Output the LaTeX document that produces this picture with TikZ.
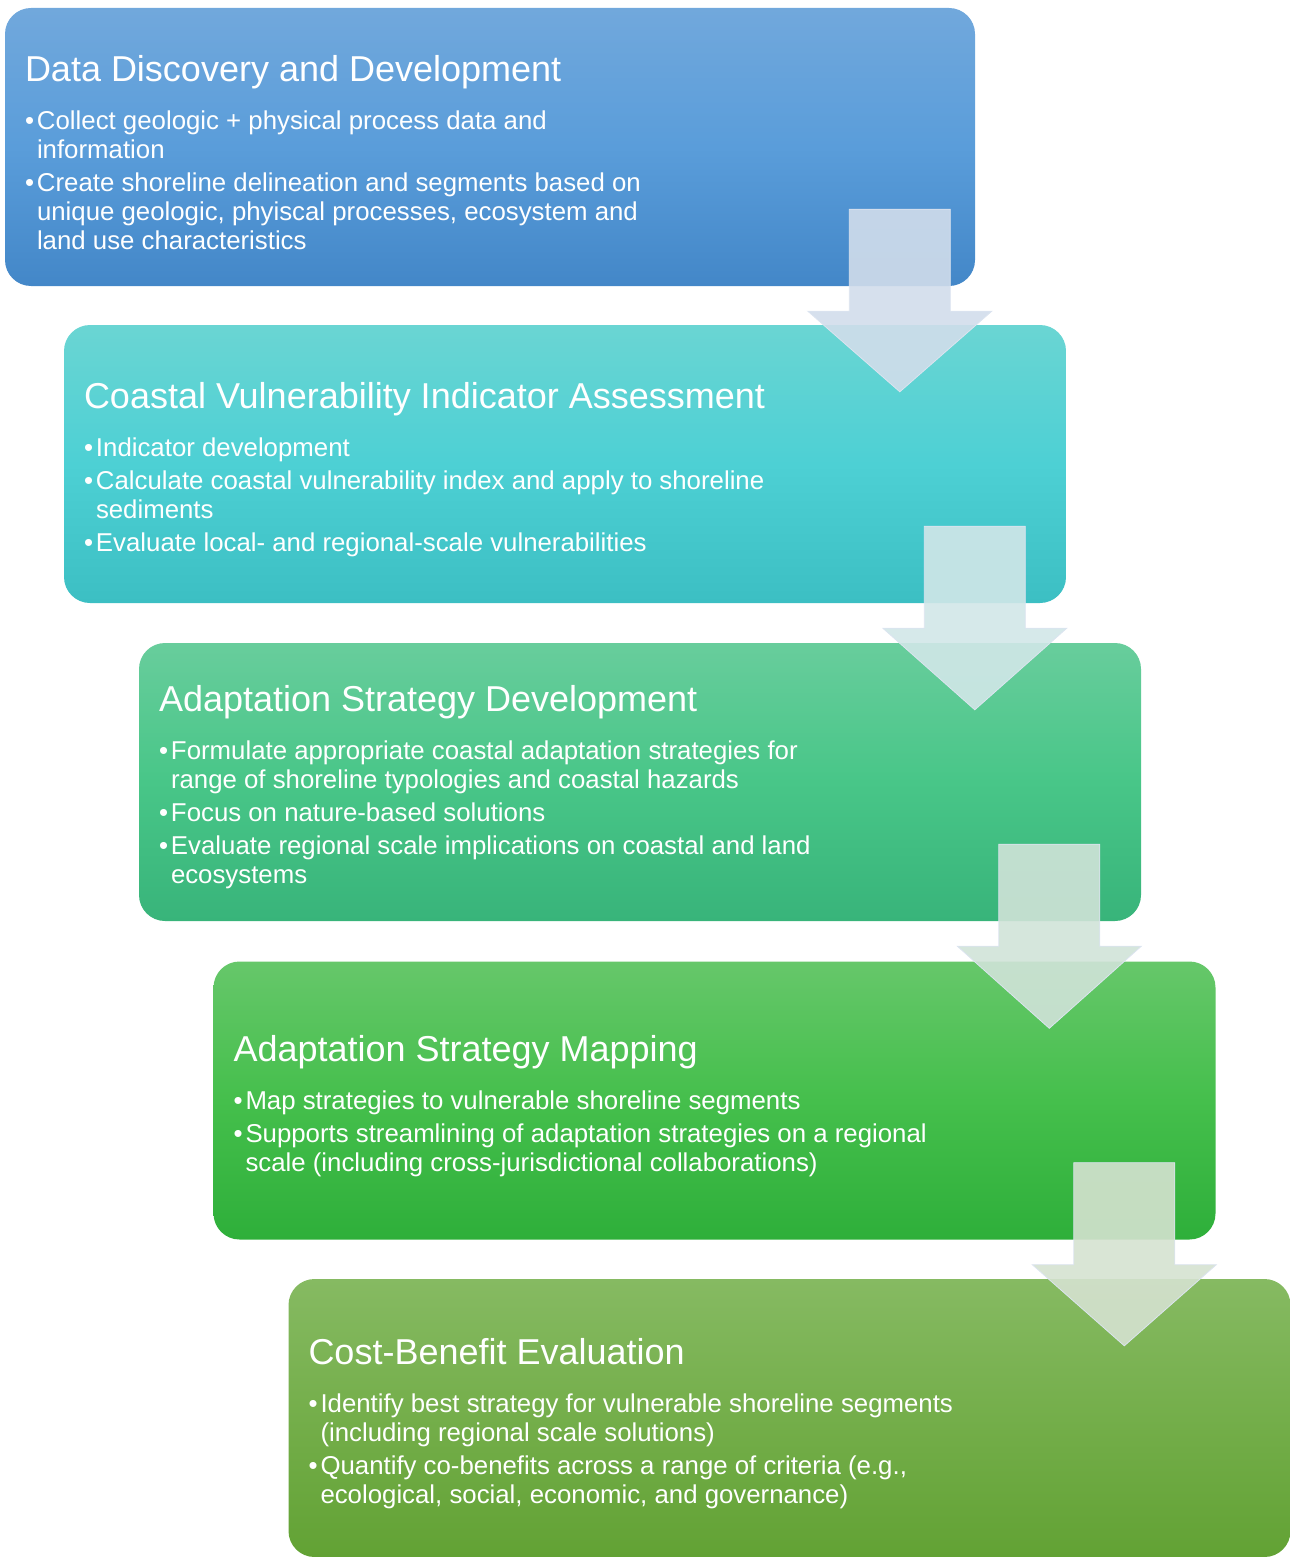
\documentclass[tikz,border=0pt]{standalone}
\usepackage{fontspec}
\setmainfont{Liberation Sans}
\usetikzlibrary{calc}

\definecolor{blueTop}{HTML}{71A8DC}
\definecolor{blueMid}{HTML}{5A9DDA}
\definecolor{blueBot}{HTML}{4387C8}
\definecolor{cyanTop}{HTML}{6AD5D3}
\definecolor{cyanMid}{HTML}{4DD0D4}
\definecolor{cyanBot}{HTML}{3CBFC3}
\definecolor{tealTop}{HTML}{68CD9C}
\definecolor{tealMid}{HTML}{48C688}
\definecolor{tealBot}{HTML}{38B47A}
\definecolor{greenTop}{HTML}{66C76A}
\definecolor{greenMid}{HTML}{45BF4C}
\definecolor{greenBot}{HTML}{2EAF3A}
\definecolor{oliveTop}{HTML}{86BA62}
\definecolor{oliveMid}{HTML}{74AE4A}
\definecolor{oliveBot}{HTML}{62A234}
\definecolor{arrowA}{HTML}{D1DDEB}
\definecolor{arrowB}{HTML}{D1E7E8}
\definecolor{arrowC}{HTML}{D0E3D8}
\definecolor{arrowD}{HTML}{D5E2D0}
\definecolor{arrowEdge}{HTML}{DCE4F0}

\newcommand{\steptitle}[1]{\spaceskip=0pt\xspaceskip=0pt%
  {\fontsize{36}{40}\selectfont\rule{0pt}{37pt}#1\par}\vspace{15pt}\fontsize{25.8}{29}\selectfont}
\newcommand{\stepitem}[1]{\hangindent=12pt\hangafter=1\noindent\makebox[12pt][l]{\textbullet}#1\par}

\tikzset{
  stepbox/.style={rounded corners=26pt, minimum height=278pt, text width=962pt,
    inner xsep=20pt, inner ysep=0pt, text=white,
    execute at begin node={\setlength{\parskip}{4pt}\setlength{\parindent}{0pt}}},
  flowarrow/.style={fill opacity=0.9, draw=arrowEdge, line width=0.8pt}
}

\begin{document}
\begin{tikzpicture}[x=1pt,y=-1pt]
      \useasboundingbox (0,0) rectangle (1291,1557);

      % step 1
      \node[stepbox, text width=930pt, top color=blueTop, bottom color=blueBot, middle color=blueMid]
        (s1) at (490,147) {%
        \steptitle{Data Discovery and Development}
        \stepitem{Collect geologic + physical process data and\newline information}
        \stepitem{Create shoreline delineation and segments based on\newline unique geologic, phyiscal processes, ecosystem and\newline land use characteristics}};
      % step 2
      \node[stepbox, top color=cyanTop, bottom color=cyanBot, middle color=cyanMid]
        (s2) at (565,464) {%
        \steptitle{Coastal Vulnerability Indicator Assessment}
        \stepitem{Indicator development}
        \stepitem{Calculate coastal vulnerability index and apply to shoreline\newline sediments}
        \stepitem{Evaluate local- and regional-scale vulnerabilities}};
      % step 3
      \node[stepbox, top color=tealTop, bottom color=tealBot, middle color=tealMid]
        (s3) at (640,782) {%
        \steptitle{Adaptation Strategy Development}
        \stepitem{Formulate appropriate coastal adaptation strategies for\newline range of shoreline typologies and coastal hazards}
        \stepitem{Focus on nature-based solutions}
        \stepitem{Evaluate regional scale implications on coastal and land\newline ecosystems}};
      % step 4
      \node[stepbox, top color=greenTop, bottom color=greenBot, middle color=greenMid]
        (s4) at (714.5,1100.5) {%
        \steptitle{Adaptation Strategy Mapping}
        \stepitem{Map strategies to vulnerable shoreline segments}
        \stepitem{Supports streamlining of adaptation strategies on a regional\newline scale (including cross-jurisdictional collaborations)}};
      % step 5
      \node[stepbox, top color=oliveTop, bottom color=oliveBot, middle color=oliveMid]
        (s5) at (789.5,1418) {%
        \steptitle{Cost-Benefit Evaluation}
        \stepitem{Identify best strategy for vulnerable shoreline segments\newline (including regional scale solutions)}
        \stepitem{Quantify co-benefits across a range of criteria (e.g.,\newline ecological, social, economic, and governance)}};

      % arrows
      \foreach \a/\b/\c in {s1/s2/arrowA,s2/s3/arrowB,s3/s4/arrowC,s4/s5/arrowD}{
        \coordinate (m) at ($(\b.north west |- \a.south)+(836,0)$);
        \filldraw[flowarrow, fill=\c] ($(m)+(-50.5,-77)$) -- ($(m)+(50.5,-77)$)
          -- ($(m)+(50.5,25)$) -- ($(m)+(92,25)$) -- ($(m |- \b.north)+(0,67)$)
          -- ($(m)+(-92,25)$) -- ($(m)+(-50.5,25)$) -- cycle;
      }
    \end{tikzpicture}
\end{document}
